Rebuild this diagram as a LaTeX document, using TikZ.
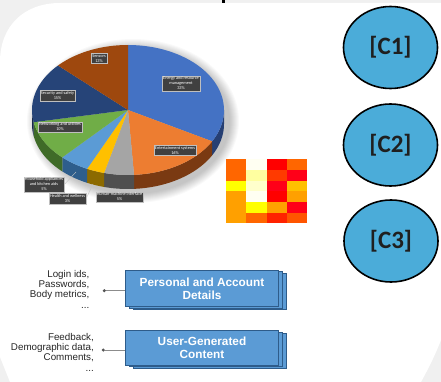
\documentclass[tikz,border=0pt]{standalone}
\usepackage{fontspec}
\setmainfont{Liberation Sans}
\newfontfamily\carlito{Carlito}
\usetikzlibrary{calc,shapes.geometric,shadows}

\definecolor{bggray}{HTML}{F0F0F0}
% pie slice colours (top / side)
\definecolor{enTop}{HTML}{4472C4}\definecolor{enSide}{HTML}{263F73}
\definecolor{etTop}{HTML}{ED7D31}\definecolor{etSide}{HTML}{7A3A12}
\definecolor{hmTop}{HTML}{A5A5A5}\definecolor{hmSide}{HTML}{4F4F4F}
\definecolor{hwTop}{HTML}{FFC000}\definecolor{hwSide}{HTML}{8C6A00}
\definecolor{haTop}{HTML}{5B9BD5}\definecolor{haSide}{HTML}{2E5E8C}
\definecolor{nwTop}{HTML}{70AD47}\definecolor{nwSide}{HTML}{3F6B28}
\definecolor{sfTop}{HTML}{264478}\definecolor{sfSide}{HTML}{17294A}
\definecolor{snTop}{HTML}{9E480E}
\definecolor{lblGray}{HTML}{404040}
% heat map colours
\definecolor{hOr}{HTML}{FF6600}\definecolor{hIv}{HTML}{FFFFF2}
\definecolor{hRd}{HTML}{FF0000}\definecolor{hPy}{HTML}{FFFFA0}
\definecolor{hRo}{HTML}{FF3A00}\definecolor{hRr}{HTML}{FF0018}
\definecolor{hYe}{HTML}{FFFF00}\definecolor{hLy}{HTML}{FFFFCC}
\definecolor{hAm}{HTML}{FFC000}\definecolor{hOa}{HTML}{FFA000}
\definecolor{hRt}{HTML}{FF2200}\definecolor{hOt}{HTML}{FF5500}
% other colours
\definecolor{circBlue}{HTML}{4BACD9}
\definecolor{boxBlue}{HTML}{5B9BD5}
\definecolor{boxEdge}{HTML}{2E5C8A}
\definecolor{dotGray}{HTML}{555555}
\definecolor{lineGray}{HTML}{8C8C8C}

% pie geometry
\def\pcx{128}\def\pcy{110}\def\prx{96}\def\pry{65}\def\pdep{14}
\newcommand\PieTop[3]{\fill[#3] (\pcx,\pcy) -- plot[domain=#1:#2,samples=40,variable=\q]
  ({\pcx+\prx*sin(\q)},{\pcy-\pry*cos(\q)}) -- cycle;}
\newcommand\PieSide[3]{\fill[#3] plot[domain=#1:#2,samples=30,variable=\q]
  ({\pcx+\prx*sin(\q)},{\pcy-\pry*cos(\q)}) -- plot[domain=#2:#1,samples=30,variable=\q]
  ({\pcx+\prx*sin(\q)},{\pcy-\pry*cos(\q)+\pdep}) -- cycle;}

\begin{document}
\begin{tikzpicture}[x=1pt,y=-1pt,
  pielabel/.style={fill=lblGray,draw=gray!50,line width=0.2pt,text=white,
    font=\carlito\fontsize{4.3}{5}\selectfont,inner sep=1.1pt,align=center},
  leader/.style={draw=gray!45,line width=0.4pt},
  cnode/.style={ellipse,draw=black,line width=1.6pt,fill=circBlue,
    minimum width=94pt,minimum height=82pt,inner sep=0pt,
    font=\carlito\bfseries\fontsize{25}{28}\selectfont,text=black!88},
  stackbox/.style={rectangle,fill=boxBlue,draw=boxEdge,line width=0.8pt,
    double copy shadow={shadow xshift=4pt,shadow yshift=-1.5pt},
    text=white,font=\bfseries\fontsize{11.8}{13}\selectfont,align=center,
    minimum width=153pt,inner sep=0pt},
  lefttext/.style={align=right,inner sep=0pt,font=\fontsize{9.8}{10.3}\selectfont,text=black!85},
  dotnode/.style={circle,fill=dotGray,minimum size=3.4pt,inner sep=0pt},
  conn/.style={draw=lineGray,line width=0.8pt}]

\useasboundingbox (0,0) rectangle (441,382);
% page background and white panel
\fill[bggray] (0,0) rectangle (441,382);
\fill[white] (10,382) -- (0,357) -- (0,62) .. controls (0,26) and (24,3) .. (60,3)
  -- (441,3) -- (441,340) .. controls (434,358) and (427,371) .. (421,382) -- cycle;
\fill[black] (221.5,0) rectangle (224.5,3.3);

% soft shadow under the pie
\foreach \k in {0,...,9}
  \fill[black,opacity=0.022] (\pcx+5,\pcy+11) ellipse [x radius=\prx+10-\k, y radius=\pry+17-\k];

% side walls (front half only)
\PieSide{90}{118.8}{enSide}
\PieSide{118.8}{176.4}{etSide}
\PieSide{176.4}{194.4}{hmSide}
\PieSide{194.4}{205.2}{hwSide}
\PieSide{205.2}{223.2}{haSide}
\PieSide{223.2}{259.2}{nwSide}
\PieSide{259.2}{270}{sfSide}

% top faces
\PieTop{0}{118.8}{enTop}
\PieTop{118.8}{176.4}{etTop}
\PieTop{176.4}{194.4}{hmTop}
\PieTop{194.4}{205.2}{hwTop}
\PieTop{205.2}{223.2}{haTop}
\PieTop{223.2}{259.2}{nwTop}
\PieTop{259.2}{313.2}{sfTop}
\PieTop{313.2}{360}{snTop}

% data labels
\node[pielabel] (sn) at (99,58.5) {Sensors\\13\%};
\node[pielabel] (en) at (181,83.5) {Energy and resource\\management\\33\%};
\node[pielabel] (sf) at (57.5,95.5) {Security and safety\\15\%};
\node[pielabel] (nw) at (60,127) {Networking and utilities\\10\%};
\node[pielabel] (et) at (175,150.5) {Entertainment systems\\16\%};
\node[pielabel] (ha) at (44,184.5) {Household appliances\\and kitchen aids\\5\%};
\node[pielabel] (hw) at (67.5,198.5) {Health and wellness\\3\%};
\node[pielabel] (hm) at (119.5,197) {Human-machine interface\\5\%};
\coordinate (hapt) at (76,172);
\coordinate (hwpt) at (93,184);
\draw[leader] (ha.east) -- (hapt);
\draw[leader] (hw.east) -- (hwpt);

% heat map
\foreach \c [count=\i from 0] in {hOr,hIv,hRd,hOr, hOr,hPy,hRo,hRr, hYe,hLy,hRr,hAm,
                                  hOa,hIv,hRd,hOa, hOa,hYe,hOa,hRr, hOa,hOr,hRt,hOt}{
  \pgfmathtruncatemacro\col{mod(\i,4)}
  \pgfmathtruncatemacro\row{int(\i/4)}
  \fill[\c] (226+\col*20.3,159.3+\row*10.67) rectangle ++(20.4,10.75);
}

% category circles
\node[cnode] (c1) at (390.5,47.5) {[C1]};
\node[cnode] (c2) at (390.5,145) {[C2]};
\node[cnode] (c3) at (391,241) {[C3]};

% stacked data boxes
\node[stackbox,minimum height=36.5pt] (pad) at (202,288.3) {Personal and Account\\Details};
\node[stackbox,minimum height=34.5pt] (ugc) at (202,347.8) {User-Generated\\Content};

% example items and their connectors
\node[lefttext,anchor=east] (padtxt) at (89.5,289.2) {Login ids,\\Passwords,\\Body metrics,\\...};
\node[lefttext,anchor=east] (ugctxt) at (94,352) {Feedback,\\Demographic data,\\Comments,\\...};
\node[dotnode] (d1) at (104.3,290.7) {};
\node[dotnode] (d2) at (103.3,350) {};
\draw[conn] (d1) -- (d1 -| pad.west);
\draw[conn] (d2) -- (d2 -| ugc.west);
\end{tikzpicture}
\end{document}
